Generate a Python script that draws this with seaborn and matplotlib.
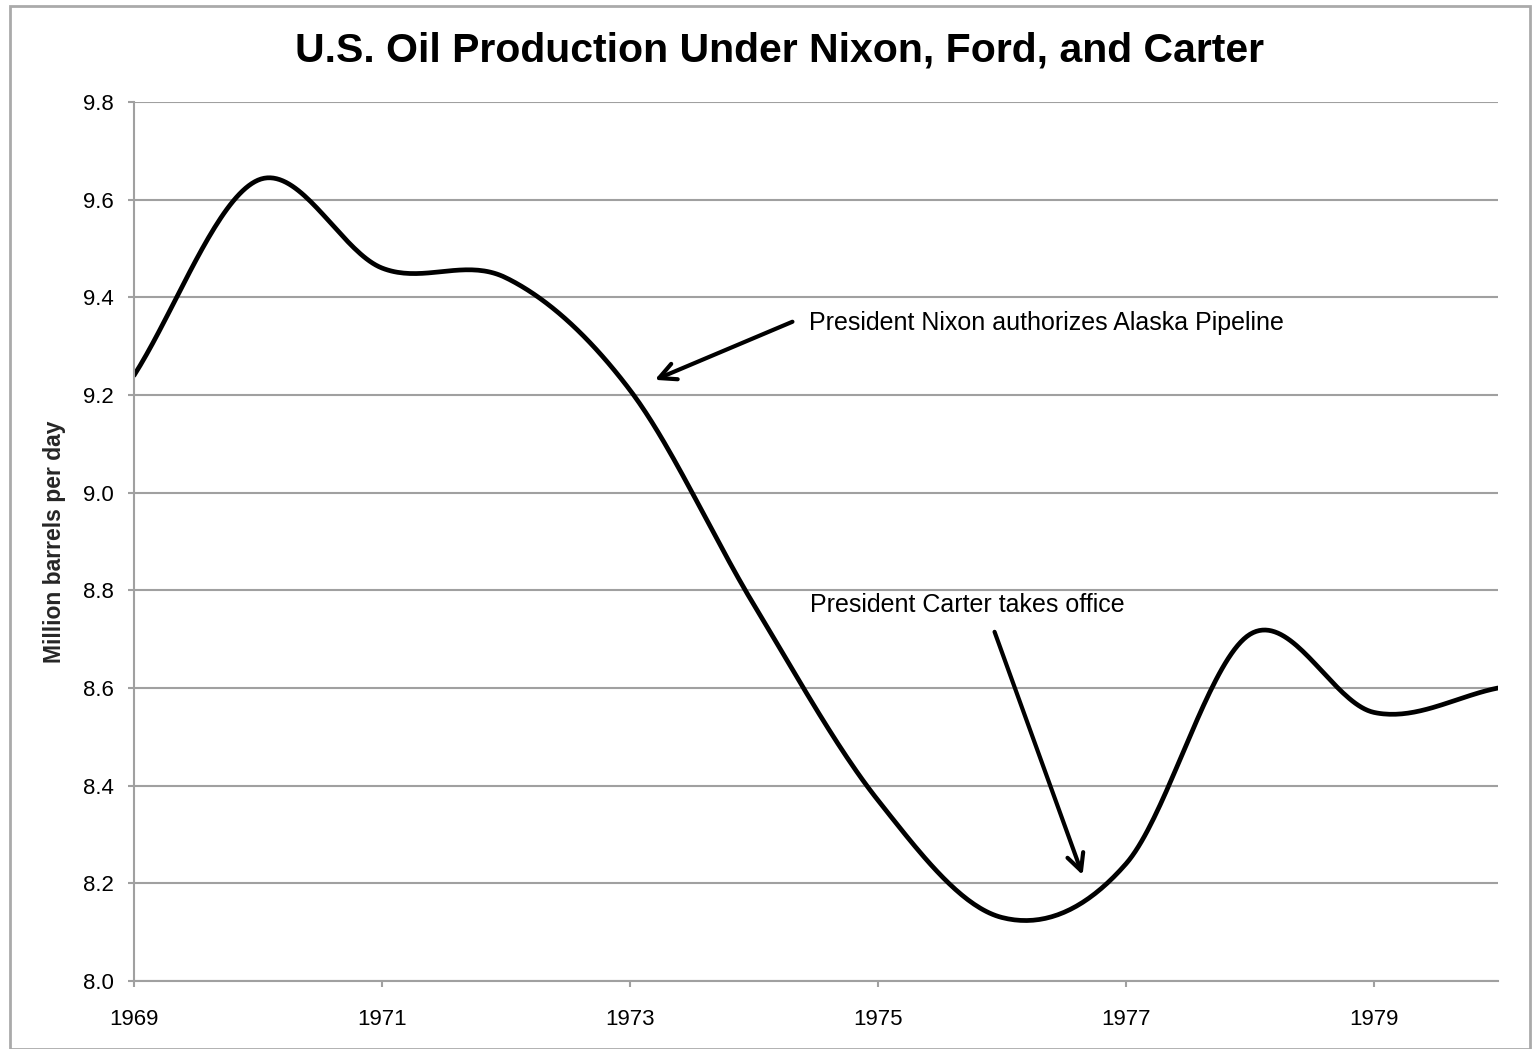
import numpy as np
import pandas as pd
import matplotlib
matplotlib.use("Agg")
import matplotlib.pyplot as plt
import seaborn as sns

# ==========================
# DATA
# ==========================
years = [1969, 1970, 1971, 1972, 1973, 1974, 1975, 1976, 1977, 1978, 1979, 1980]
production = [9.24, 9.64, 9.46, 9.44, 9.21, 8.77, 8.37, 8.13, 8.24, 8.71, 8.55, 8.60]
x_ticks = [1969, 1971, 1973, 1975, 1977, 1979]
y_ticks = [8.0, 8.2, 8.4, 8.6, 8.8, 9.0, 9.2, 9.4, 9.6, 9.8]

title = "U.S. Oil Production Under Nixon, Ford, and Carter"
y_label = "Million barrels per day"
note_nixon = "President Nixon authorizes Alaska Pipeline"
note_carter = "President Carter takes office"


# smoothed line like the spreadsheet's "smoothed line" option (Catmull-Rom)
def smooth(xs, ys, n=40):
    xs = np.asarray(xs, float)
    ys = np.asarray(ys, float)
    px = np.concatenate([[2 * xs[0] - xs[1]], xs, [2 * xs[-1] - xs[-2]]])
    py = np.concatenate([[2 * ys[0] - ys[1]], ys, [2 * ys[-1] - ys[-2]]])
    out_x, out_y = [], []
    for i in range(1, len(px) - 2):
        t = np.linspace(0, 1, n, endpoint=False)
        for p, out in ((px, out_x), (py, out_y)):
            p0, p1, p2, p3 = p[i - 1], p[i], p[i + 1], p[i + 2]
            out.extend(0.5 * ((2 * p1) + (-p0 + p2) * t
                              + (2 * p0 - 5 * p1 + 4 * p2 - p3) * t ** 2
                              + (-p0 + 3 * p1 - 3 * p2 + p3) * t ** 3))
    out_x.append(xs[-1])
    out_y.append(ys[-1])
    return pd.DataFrame({"year": out_x, "value": out_y})


df = smooth(years, production)

# ==========================
# PLOT
# ==========================
sns.set_style("white")
plt.rcParams["font.family"] = ["Liberation Sans", "DejaVu Sans"]
plt.rcParams["text.color"] = "black"
plt.rcParams["xtick.labelcolor"] = "black"
plt.rcParams["ytick.labelcolor"] = "black"

fig = plt.figure(figsize=(15.4, 10.49), dpi=100)
ax = fig.add_axes([134 / 1540, 1 - 981 / 1049, (1498 - 134) / 1540, (981 - 102) / 1049])

sns.lineplot(data=df, x="year", y="value", color="black", linewidth=3.4, sort=False, ax=ax)

grey = "#a0a0a0"
ax.set_xlim(1969, 1980)
ax.set_ylim(8.0, 9.8)
ax.set_xticks(x_ticks)
ax.set_xticklabels([str(v) for v in x_ticks], fontsize=16)
ax.set_yticks(y_ticks)
ax.set_yticklabels([f"{v:.1f}" for v in y_ticks], fontsize=16)
ax.tick_params(axis="both", direction="out", length=4.5, width=1.5, color=grey,
               left=True, bottom=True, pad=10)
ax.tick_params(axis="x", pad=16)
ax.yaxis.grid(True, color=grey, linewidth=1.5)
ax.xaxis.grid(False)
for side in ["top", "right"]:
    ax.spines[side].set_visible(False)
for side in ["left", "bottom"]:
    ax.spines[side].set_color(grey)
    ax.spines[side].set_linewidth(1.5)
ax.set_xlabel("")
ax.set_ylabel(y_label, fontsize=16.5, fontweight="bold")
ax.yaxis.set_label_coords((66 - 134) / (1498 - 134), 0.5)

fig.text(780 / 1540, 1 - 50 / 1049, title, ha="center", va="center", fontsize=29.5, fontweight="bold")

ax.text(1974.44, 9.348, note_nixon, fontsize=18, va="center", ha="left")
ax.annotate("", xy=(1973.2, 9.231), xytext=(1974.31, 9.35),
            arrowprops=dict(arrowstyle="->", lw=3, color="black",
                            mutation_scale=30, shrinkA=0, shrinkB=0))
ax.text(1974.45, 8.77, note_carter, fontsize=18, va="center", ha="left")
ax.annotate("", xy=(1976.65, 8.217), xytext=(1975.94, 8.715),
            arrowprops=dict(arrowstyle="->", lw=3, color="black",
                            mutation_scale=30, shrinkA=0, shrinkB=0))

# outer chart frame
fig.patches.append(plt.Rectangle((10 / 1540, 0.0), 1 - 20 / 1540, 1 - 6 / 1049,
                                 transform=fig.transFigure, fill=False,
                                 edgecolor="#aaaaaa", linewidth=2))

fig.savefig("out.png", dpi=100)
